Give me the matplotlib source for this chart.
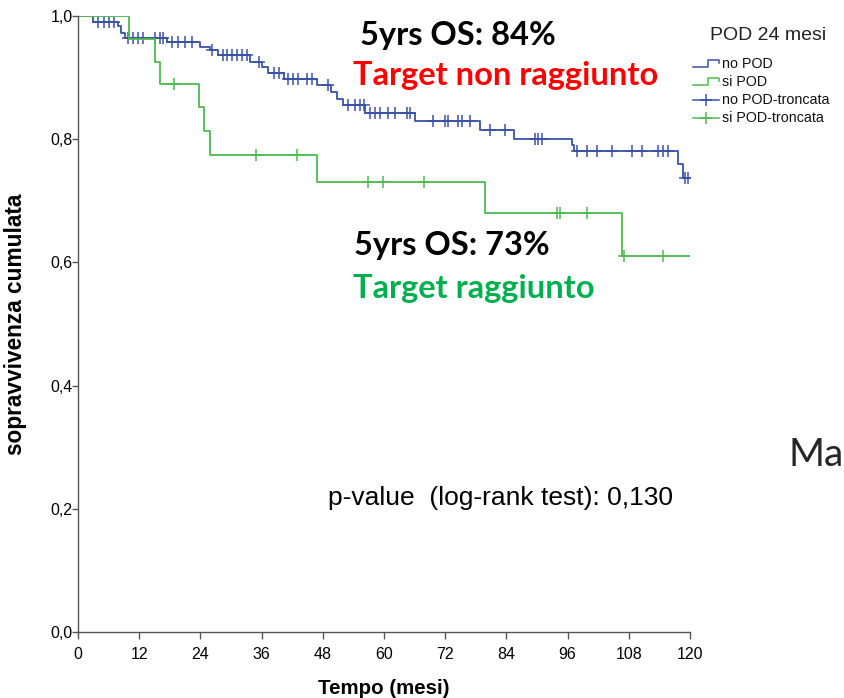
import numpy as np
import matplotlib
matplotlib.use("Agg")
import matplotlib.pyplot as plt
from matplotlib.lines import Line2D

# ---- data ----
blue_event_t = [0, 3.0, 7.8, 8.5, 9.2, 17.5, 24.0, 25.9, 27.4, 33.7, 36.0, 37.3, 40.3,
                46.8, 49.7, 50.7, 52.0, 56.3, 66.0, 78.8, 85.5, 96.8, 97.3, 117.6, 118.6]
blue_event_s = [1.0, 0.991, 0.983, 0.973, 0.964, 0.957, 0.950, 0.945, 0.937, 0.925, 0.918,
                0.908, 0.897, 0.888, 0.877, 0.866, 0.855, 0.843, 0.830, 0.815, 0.800,
                0.791, 0.781, 0.760, 0.737]
blue_cens_t = [4.0, 5.0, 6.0, 7.1, 9.8, 10.8, 11.8, 12.7, 15.0, 16.0, 16.7, 18.5, 19.6,
               21.0, 22.4, 26.2, 28.5, 29.2, 30.2, 31.2, 32.2, 33.1, 35.5, 38.5, 39.5,
               41.2, 42.2, 43.1, 44.9, 45.9, 49.0, 53.0, 54.3, 55.3, 56.0, 57.3, 58.2,
               59.2, 60.8, 62.2, 64.5, 65.1, 69.7, 72.0, 72.6, 74.5, 75.3, 76.9, 80.8,
               83.7, 89.6, 90.2, 91.0, 97.8, 99.8, 101.7, 104.7, 108.6, 110.6, 113.7,
               114.7, 115.6, 119.0, 119.6]

green_event_t = [0, 10.0, 15.0, 16.0, 23.7, 24.7, 25.9, 46.9, 79.8, 106.7]
green_event_s = [1.0, 0.963, 0.926, 0.889, 0.852, 0.813, 0.774, 0.731, 0.680, 0.610]
green_cens_t = [18.8, 34.9, 42.9, 56.9, 59.8, 67.9, 93.9, 94.5, 99.8, 107.0, 114.7]

t_end = 120
x_ticks = [0, 12, 24, 36, 48, 60, 72, 84, 96, 108, 120]
y_ticks = [0.0, 0.2, 0.4, 0.6, 0.8, 1.0]
y_tick_labels = ["0,0", "0,2", "0,4", "0,6", "0,8", "1,0"]

BLUE = "#3a52a6"
GREEN = "#4cbb4f"

arial = ["Liberation Sans", "DejaVu Sans"]

fig = plt.figure(figsize=(8.44, 6.98), dpi=100)
W, H = 844, 698
ax = fig.add_axes([78 / W, 1 - 632 / H, (690 - 78) / W, (632 - 16) / H])


def surv_at(ts, et, es):
    idx = np.searchsorted(np.array(et), np.array(ts), side="right") - 1
    return np.array(es)[idx]


for et, es, ct, col in [(blue_event_t, blue_event_s, blue_cens_t, BLUE),
                        (green_event_t, green_event_s, green_cens_t, GREEN)]:
    ax.step(list(et) + [t_end], list(es) + [es[-1]], where="post", color=col, lw=1.3)
    ax.plot(ct, surv_at(ct, et, es), ls="none", marker="+", ms=8, mew=1.1, color=col)

ax.set_xlim(0, 120)
ax.set_ylim(0, 1.0)
ax.set_xticks(x_ticks)
ax.set_xticklabels([str(t) for t in x_ticks], family=arial, fontsize=11.5)
ax.set_yticks(y_ticks)
ax.set_yticklabels(y_tick_labels, family=arial, fontsize=11.5)
for s in ["top", "right"]:
    ax.spines[s].set_visible(False)
for s in ["left", "bottom"]:
    ax.spines[s].set_color("#555555")
    ax.spines[s].set_linewidth(1.0)
ax.tick_params(direction="out", length=5, width=1, color="#555555")
ax.tick_params(axis="x", pad=6)
ax.tick_params(axis="y", pad=0, length=4)
ax.set_xlabel("Tempo (mesi)", fontweight="bold", family=arial, fontsize=14.8)
ax.set_ylabel("sopravvivenza cumulata", fontweight="bold", family=arial, fontsize=16.3)
ax.xaxis.set_label_coords(0.5, (632 - 679) / 616)
ax.yaxis.set_label_coords((27 - 78) / 612, 0.5)


def fx(px):
    return px / W


def fy(py):
    return 1 - py / H


big = dict(fontweight="bold", family=["Lato", "DejaVu Sans"], fontsize=23.5, va="center", ha="left")
fig.text(fx(360), fy(36), "5yrs OS: 84%", color="black", **big)
fig.text(fx(353), fy(76), "Target non raggiunto", color="#ff0000", **big)
fig.text(fx(354), fy(245), "5yrs OS: 73%", color="black", **big)
fig.text(fx(353), fy(289), "Target raggiunto", color="#00b050", **big)
fig.text(fx(328), fy(498), "p-value  (log-rank test): 0,130", family=arial,
         fontsize=19, va="center", ha="left", color="black")
fig.text(fx(789), fy(455), "Ma", family=["Lato", "DejaVu Sans"], fontsize=28, va="center", ha="left",
         color="#262626")

# legend
fig.text(fx(768), fy(36), "POD 24 mesi", family=arial, fontsize=14,
         ha="center", va="center", color="#222222")
leg_labels = ["no POD", "si POD", "no POD-troncata", "si POD-troncata"]
leg_colors = [BLUE, GREEN, BLUE, GREEN]
leg_y = [64, 82, 100, 118]
for i, (lab, col, yy) in enumerate(zip(leg_labels, leg_colors, leg_y)):
    if i < 2:
        xs = [693, 708, 708, 719, 719]
        ys = [yy + 3, yy + 3, yy - 4, yy - 4, yy - 1]
        fig.add_artist(Line2D([fx(v) for v in xs], [fy(v) for v in ys], color=col, lw=1.1))
    else:
        fig.add_artist(Line2D([fx(693), fx(719)], [fy(yy), fy(yy)], color=col, lw=1.1))
        fig.add_artist(Line2D([fx(706)], [fy(yy)], marker="+", ms=8, mew=1.1, color=col))
    fig.text(fx(722), fy(yy), lab, family=arial, fontsize=10.3,
             va="center", ha="left", color="#111111")

fig.savefig("out.png", dpi=100)
